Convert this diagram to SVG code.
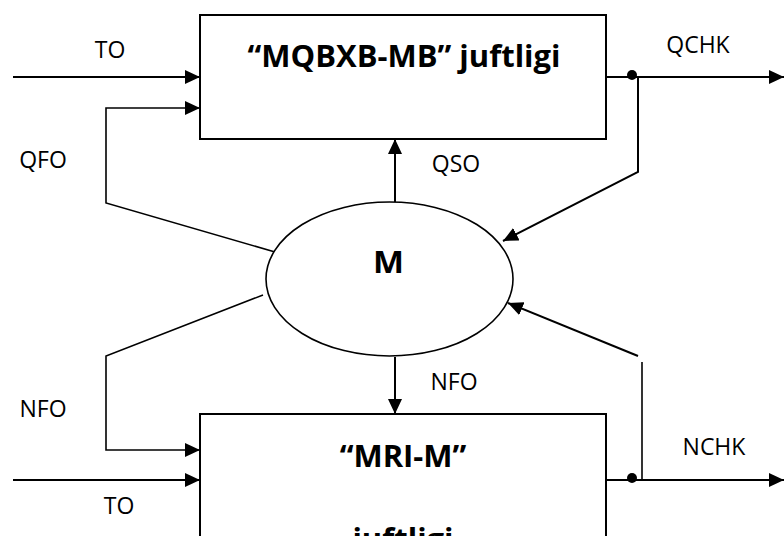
<svg xmlns="http://www.w3.org/2000/svg" width="784" height="536" viewBox="0 0 784 536">
<defs>
<style>
.box{fill:#fff;stroke:#000;stroke-width:2}
.ell{fill:#fff;stroke:#000;stroke-width:1.6}
.ln{fill:none;stroke:#000;stroke-width:2}
.thin{fill:none;stroke:#000;stroke-width:1.6}
.lbl{font-family:"Open Sans","Liberation Sans",sans-serif;font-size:23px;fill:#000}
.ttl{font-family:"Open Sans","Liberation Sans",sans-serif;font-size:31px;font-weight:bold;fill:#000}
.dot{fill:#000}
</style>
<marker id="ah" markerUnits="userSpaceOnUse" markerWidth="16" markerHeight="14" refX="15" refY="7" orient="auto">
<path d="M0,0 L15,7 L0,14 z" fill="#000"/>
</marker>
</defs>
<rect width="784" height="536" fill="#fff"/>
<g id="connectors">
<line class="ln" x1="13" y1="77" x2="200" y2="77" marker-end="url(#ah)"/>
<polyline class="thin" points="275,252 106,203 106,108 200,108" marker-end="url(#ah)"/>
<line class="ln" x1="395" y1="202" x2="395" y2="139" marker-end="url(#ah)"/>
<line class="ln" x1="606" y1="77" x2="784" y2="77" marker-end="url(#ah)"/>
<polyline class="ln" points="638,77 638,172 503,241" marker-end="url(#ah)"/>
<line class="ln" x1="395" y1="357" x2="395" y2="414" marker-end="url(#ah)"/>
<polyline class="thin" points="263,295 106,356 106,450 200,450" marker-end="url(#ah)"/>
<line class="ln" x1="13" y1="480" x2="200" y2="480" marker-end="url(#ah)"/>
<line class="ln" x1="606" y1="480" x2="784" y2="480" marker-end="url(#ah)"/>
<line class="thin" x1="642" y1="362" x2="642" y2="480"/>
<line class="ln" x1="638" y1="356" x2="508" y2="303" marker-end="url(#ah)"/>
<circle class="dot" cx="632" cy="75" r="5"/>
<circle class="dot" cx="632" cy="478" r="5"/>
<text class="lbl" x="110" y="58" text-anchor="middle">TO</text>
<text class="lbl" x="43" y="168" text-anchor="middle">QFO</text>
<text class="lbl" x="456" y="172" text-anchor="middle">QSO</text>
<text class="lbl" x="698" y="53" text-anchor="middle">QCHK</text>
<text class="lbl" x="454" y="390" text-anchor="middle">NFO</text>
<text class="lbl" x="43" y="417" text-anchor="middle">NFO</text>
<text class="lbl" x="119" y="514" text-anchor="middle">TO</text>
<text class="lbl" x="714" y="455" text-anchor="middle">NCHK</text>
</g>
<g id="node-mqbxb">
<rect class="box" x="200" y="15" width="406" height="124"/>
<text class="ttl" x="404" y="67" text-anchor="middle">“MQBXB-MB” juftligi</text>
</g>
<g id="node-m">
<ellipse class="ell" cx="389.5" cy="279" rx="123.5" ry="77"/>
<text class="ttl" x="388.5" y="273" text-anchor="middle" font-size="37" textLength="31" lengthAdjust="spacingAndGlyphs">M</text>
</g>
<g id="node-mri">
<rect class="box" x="200" y="414" width="406" height="140"/>
<text class="ttl" x="403" y="467" text-anchor="middle">“MRI-M”</text>
<text class="ttl" x="403" y="550" text-anchor="middle">juftligi</text>
</g>
</svg>
